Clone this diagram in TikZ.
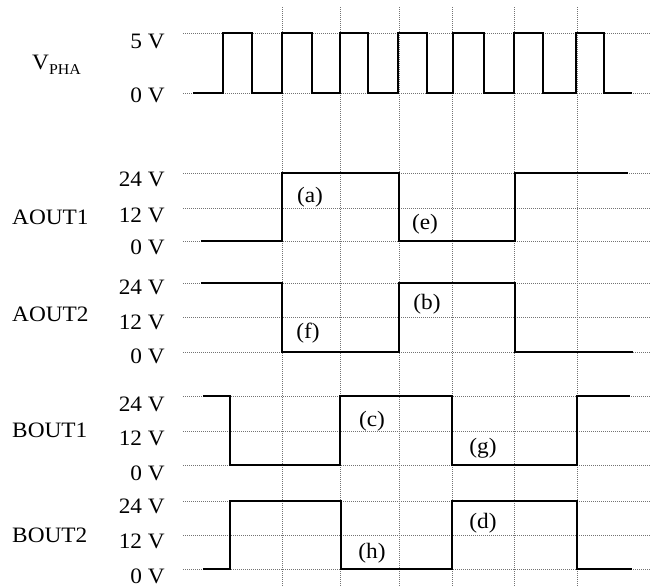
\documentclass[tikz,border=0pt]{standalone}
\usepackage{fontspec}
\setmainfont{Liberation Serif}[FakeStretch=1.06]
\begin{document}
\begin{tikzpicture}[x=1pt,y=-1pt,
  gridline/.style={draw=black!55, line width=0.9pt, dash pattern=on 1pt off 1pt},
  wave/.style={draw=black, line width=2.5pt, line join=miter},
  lvl/.style={anchor=base east, inner sep=0pt, font=\fontsize{22}{26}\selectfont},
  sig/.style={anchor=base west, inner sep=0pt, font=\fontsize{22}{26}\selectfont},
  tag/.style={anchor=center, inner sep=0pt, font=\fontsize{22}{26}\selectfont}]
\useasboundingbox (0,0) rectangle (651,587);
% grid
\foreach \x in {282,340,399,452,514,577} \draw[gridline] (\x,7) -- (\x,587);
\foreach \y in {33,93,173,208,241,283,317,352,396,431,465,501,535,569} \draw[gridline] (183,\y) -- (651,\y);
% level labels
\node[lvl] (v5) at (165,48) {5 V};
\node[lvl] (v0) at (165,102) {0 V};
\node[lvl] (h1) at (165,186) {24 V};
\node[lvl] (m1) at (165,222) {12 V};
\node[lvl] (z1) at (165,254) {0 V};
\node[lvl] (h2) at (165,294) {24 V};
\node[lvl] (m2) at (165,329) {12 V};
\node[lvl] (z2) at (165,363) {0 V};
\node[lvl] (h3) at (165,411) {24 V};
\node[lvl] (m3) at (165,445) {12 V};
\node[lvl] (z3) at (165,480) {0 V};
\node[lvl] (h4) at (165,513) {24 V};
\node[lvl] (m4) at (165,548) {12 V};
\node[lvl] (z4) at (165,583) {0 V};
% signal names
\node[sig] (vpha) at (32,69) {V\raisebox{-0.27em}{\fontsize{15}{17}\selectfont PHA}};
\node[sig] (aout1) at (12,224) {AOUT1};
\node[sig] (aout2) at (12,321) {AOUT2};
\node[sig] (bout1) at (12,437) {BOUT1};
\node[sig] (bout2) at (12,542) {BOUT2};
% waveforms
\draw[wave] (193,93) -| (223,33) -| (252,93) -| (282,33) -| (312,93) -| (340,33) -| (368,93) -| (398,33) -| (427,93) -| (453,33) -| (484,93) -| (514,33) -| (543,93) -| (576,33) -| (604,93) -- (632,93);
\draw[wave] (201,241) -| (282,173) -| (399,241) -| (515,173) -- (628,173);
\draw[wave] (201,283) -| (282,352) -| (399,283) -| (515,352) -- (633,352);
\draw[wave] (203,396) -| (230,465) -| (340,396) -| (452,465) -| (577,396) -- (630,396);
\draw[wave] (203,569) -| (230,501) -| (341,569) -| (452,501) -| (577,569) -- (632,569);
% tags
\node[tag] (ta) at (310,197) {(a)};
\node[tag] (te) at (425,224) {(e)};
\node[tag] (tb) at (427,304) {(b)};
\node[tag] (tf) at (308,333) {(f)};
\node[tag] (tc) at (372,421) {(c)};
\node[tag] (tg) at (483,448) {(g)};
\node[tag] (td) at (483,523) {(d)};
\node[tag] (th) at (372,553) {(h)};
\end{tikzpicture}
\end{document}
